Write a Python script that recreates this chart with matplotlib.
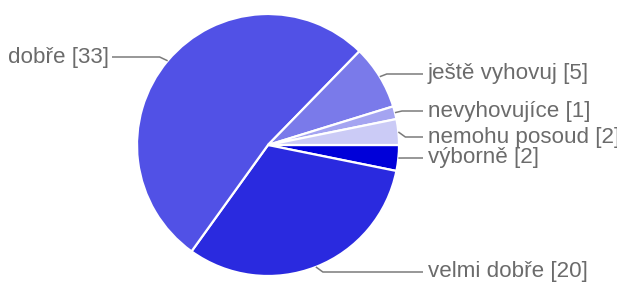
import numpy as np
import matplotlib
matplotlib.use("Agg")
import matplotlib.pyplot as plt

labels = ['výborně', 'velmi dobře', 'dobře', 'ještě vyhovuj', 'nevyhovujíce', 'nemohu posoud']
values = [2, 20, 33, 5, 1, 2]
colors = ['#0000d9', '#2a2adf', '#5151e6', '#7a7aea', '#a4a4f1', '#cbcbf6']

# layout (pixels from top-left)
W, H = 617, 285
cx, cy, R = 268, 145, 131
label_y = [158, 272, 57, 74, 111, 137]
text_x_right = 428
text_x_left = 109

fig = plt.figure(figsize=(W / 100, H / 100), dpi=100)
ax = fig.add_axes([0, 0, 1, 1])
ax.set_xlim(0, W)
ax.set_ylim(0, H)
ax.set_aspect('equal')
ax.axis('off')

wedges, _ = ax.pie(values, colors=colors, startangle=0, counterclock=False,
                   center=(cx, H - cy), radius=R,
                   wedgeprops=dict(edgecolor='white', linewidth=1.6))
ax.set_xlim(0, W)
ax.set_ylim(0, H)

line_col = '#7a7a7a'
text_col = '#6b6b6b'
fs = 16.1
for w, lab, v, ly in zip(wedges, labels, values, label_y):
    mid = np.deg2rad((w.theta1 + w.theta2) / 2)
    ax_x = cx + R * np.cos(mid)
    ax_y = (H - cy) + R * np.sin(mid)
    ty = H - ly
    if np.cos(mid) >= 0:
        elbow_x = ax_x + 7
        end_x = text_x_right - 5
        ax.plot([ax_x, elbow_x, end_x], [ax_y, ty, ty], color=line_col, lw=1.1,
                solid_capstyle='butt')
        ax.text(text_x_right, ty, f'{lab} [{v}]', ha='left', va='center',
                fontsize=fs, color=text_col, family='Liberation Sans')
    else:
        elbow_x = ax_x - 8
        end_x = text_x_left + 3
        ax.plot([ax_x, elbow_x, end_x], [ax_y, ty, ty], color=line_col, lw=1.1,
                solid_capstyle='butt')
        ax.text(text_x_left, ty, f'{lab} [{v}]', ha='right', va='center',
                fontsize=fs, color=text_col, family='Liberation Sans')

fig.savefig('out.png', dpi=100, facecolor='white')
